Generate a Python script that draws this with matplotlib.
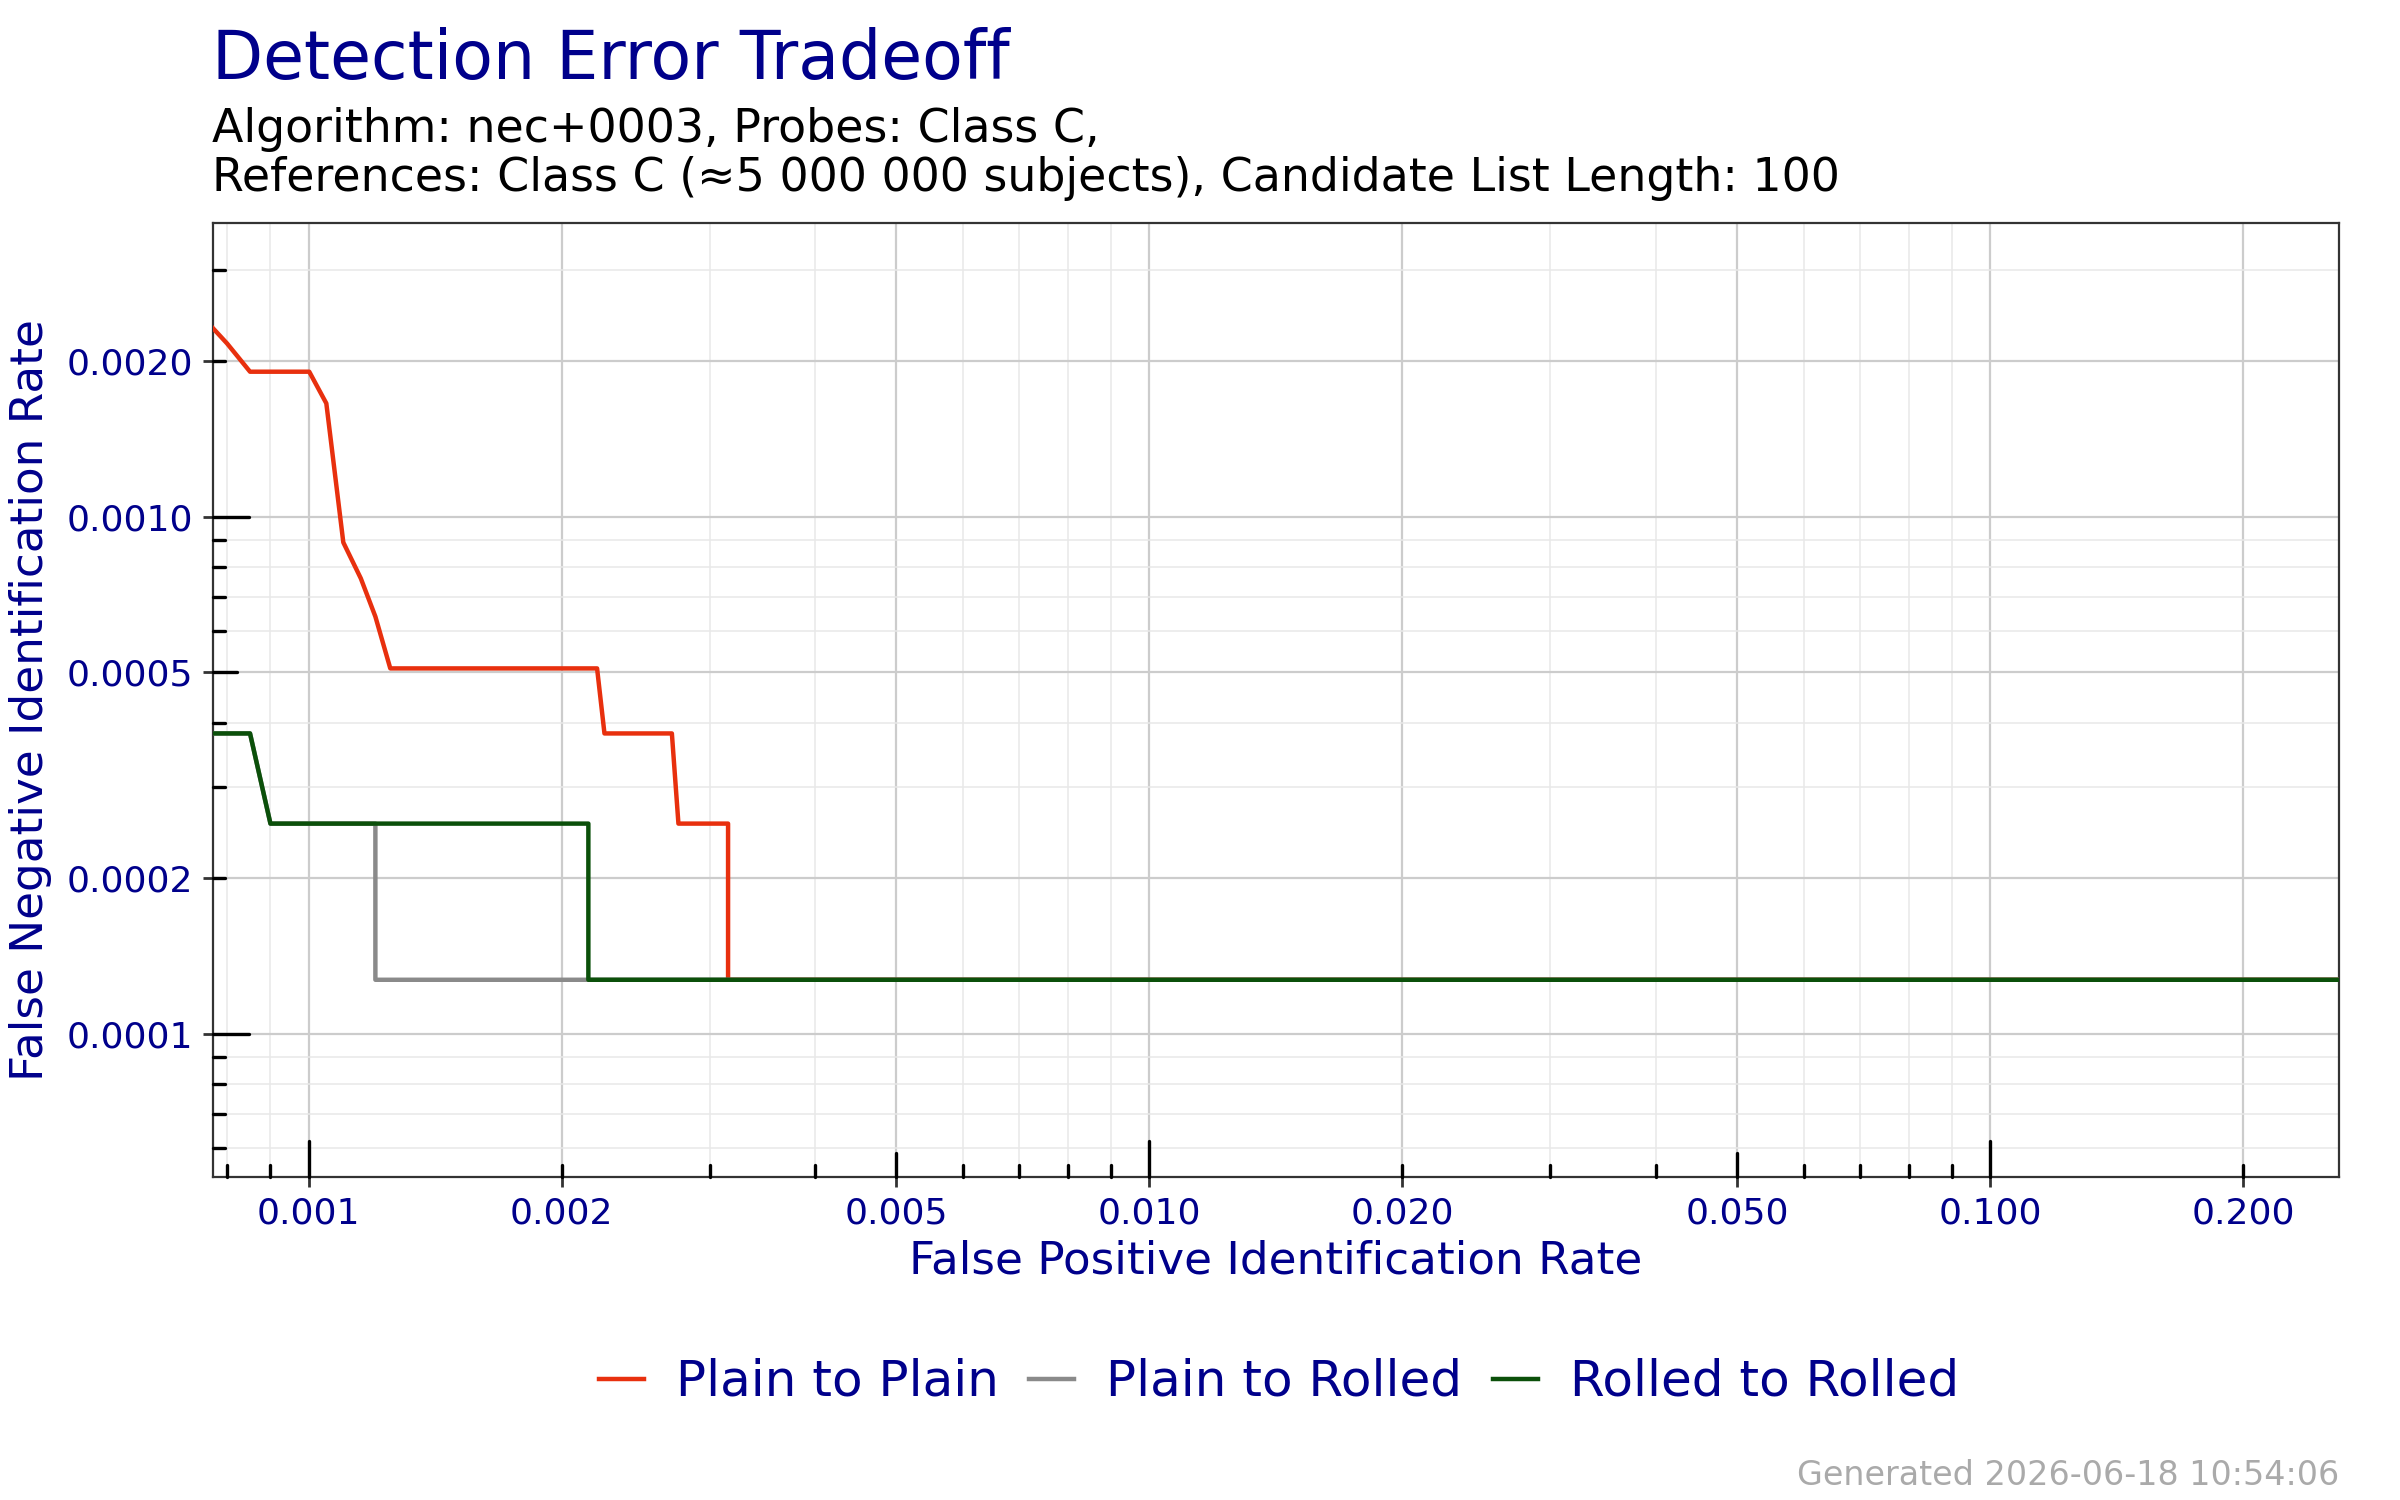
import numpy as np
import matplotlib
matplotlib.use("Agg")
import matplotlib.pyplot as plt
import matplotlib.transforms as mtransforms

plt.rcParams['font.family'] = ['DejaVu Sans']

# ---- data ----
series_names = ["Plain to Plain", "Plain to Rolled", "Rolled to Rolled"]
series_colors = ["#E8300E", "#8A8A8A", "#0B500A"]

pp_fpir = [0.000769, 0.00080, 0.000852, 0.001002, 0.00105, 0.00110, 0.001154,
           0.001201, 0.001251, 0.002204, 0.002249, 0.002705, 0.002754,
           0.003155, 0.003155, 0.26]
pp_fnir = [0.00232, 0.002164, 0.001908, 0.001908, 0.001657, 0.000892, 0.000760,
           0.000641, 0.000509, 0.000509, 0.000381, 0.000381, 0.000255,
           0.000255, 0.0001272, 0.0001272]

pr_fpir = [0.000769, 0.000852, 0.000901, 0.001201, 0.001201, 0.26]
pr_fnir = [0.000381, 0.000381, 0.000255, 0.000255, 0.0001272, 0.0001272]

rr_fpir = [0.000769, 0.000852, 0.000901, 0.002152, 0.002152, 0.26]
rr_fnir = [0.000381, 0.000381, 0.000255, 0.000255, 0.0001272, 0.0001272]

x_major = [0.001, 0.002, 0.005, 0.010, 0.020, 0.050, 0.100, 0.200]
x_labels = ["0.001", "0.002", "0.005", "0.010", "0.020", "0.050", "0.100", "0.200"]
y_major = [0.0001, 0.0002, 0.0005, 0.0010, 0.0020]
y_labels = ["0.0001", "0.0002", "0.0005", "0.0010", "0.0020"]

xlim = (0.000769, 0.26)
ylim = (0.0000528, 0.0037)

title = "Detection Error Tradeoff"
subtitle1 = "Algorithm: nec+0003, Probes: Class C,"
subtitle2 = "References: Class C (\u22485 000 000 subjects), Candidate List Length: 100"
footer = "Generated 2026-06-18 10:54:06"

NAVY = "#00008B"
W, H = 2400, 1500
fig = plt.figure(figsize=(12, 7.5), dpi=200)
L, R, T, B = 212.6, 2339, 223, 1177.2
ax = fig.add_axes([L / W, 1 - B / H, (R - L) / W, (B - T) / H])
ax.set_xscale("log")
ax.set_yscale("log")
ax.set_xlim(*xlim)
ax.set_ylim(*ylim)

def log_positions(lo, hi):
    out = []
    for e in range(-6, 1):
        for m in range(1, 10):
            v = m * 10.0 ** e
            if lo <= v <= hi:
                out.append((v, m))
    return out

xpos = log_positions(*xlim)
ypos = log_positions(*ylim)
x_minor = [v for v, m in xpos if not any(abs(v - t) / t < 1e-6 for t in x_major)]
y_minor = [v for v, m in ypos if not any(abs(v - t) / t < 1e-6 for t in y_major)]

ax.set_xticks(x_major)
ax.set_xticklabels(x_labels)
ax.set_xticks(x_minor, minor=True)
ax.set_yticks(y_major)
ax.set_yticklabels(y_labels)
ax.set_yticks(y_minor, minor=True)
ax.tick_params(which="minor", length=0)
ax.tick_params(which="major", direction="out", length=3.6, width=1.0,
               color="#333333", labelcolor=NAVY, labelsize=13.0, pad=3.5)

ax.grid(which="major", color="#CCCCCC", linewidth=0.8)
ax.grid(which="minor", color="#E8E8E8", linewidth=0.55)
ax.set_axisbelow(True)
for s in ax.spines.values():
    s.set_color("#333333")
    s.set_linewidth(0.8)

# log ticks inside (annotation_logticks style)
bx = mtransforms.blended_transform_factory(ax.transData, ax.transAxes)
by = mtransforms.blended_transform_factory(ax.transAxes, ax.transData)
axh = B - T
axw = R - L
def tl(m):
    return 36 if m == 1 else (24 if m == 5 else 12)
for v, m in xpos:
    ax.plot([v, v], [0, tl(m) / axh], transform=bx, color="black", lw=1.2,
            solid_capstyle="round", zorder=3, clip_on=False)
for v, m in ypos:
    ax.plot([0, tl(m) / axw], [v, v], transform=by, color="black", lw=1.2,
            solid_capstyle="round", zorder=3, clip_on=False)

lines = []
for xs, ys, name, c in zip([pp_fpir, pr_fpir, rr_fpir], [pp_fnir, pr_fnir, rr_fnir],
                           series_names, series_colors):
    ln, = ax.plot(xs, ys, color=c, lw=1.6, label=name, zorder=4)
    lines.append(ln)

ax.set_xlabel("False Positive Identification Rate", color=NAVY, fontsize=16.3)
ax.xaxis.label.set_va("baseline")
ax.xaxis.set_label_coords(0.5, (B - 1274) / axh)
ax.set_ylabel("False Negative Identification Rate", color=NAVY, fontsize=16.3)
ax.yaxis.set_label_coords((52 - L) / axw, 0.5)

fig.text(212 / W, 1 - 79.3 / H, title, color=NAVY, fontsize=24.0, va="baseline", ha="left")
fig.text(212 / W, 1 - 141.7 / H, subtitle1, color="black", fontsize=16.5, va="baseline", ha="left")
fig.text(212 / W, 1 - 190.7 / H, subtitle2, color="black", fontsize=16.5, va="baseline", ha="left")
fig.text(R / W, 1 - 1485 / H, footer, color="#AAAAAA", fontsize=12.0, va="baseline", ha="right")

leg = fig.legend(handles=lines, labels=series_names, loc="center", ncol=3,
                 bbox_to_anchor=(1279 / W, 1 - 1382 / H), frameon=False,
                 fontsize=18, handlelength=0.9, handletextpad=0.64, columnspacing=0.62)
for t in leg.get_texts():
    t.set_color(NAVY)

fig.savefig("out.png", dpi=200)
